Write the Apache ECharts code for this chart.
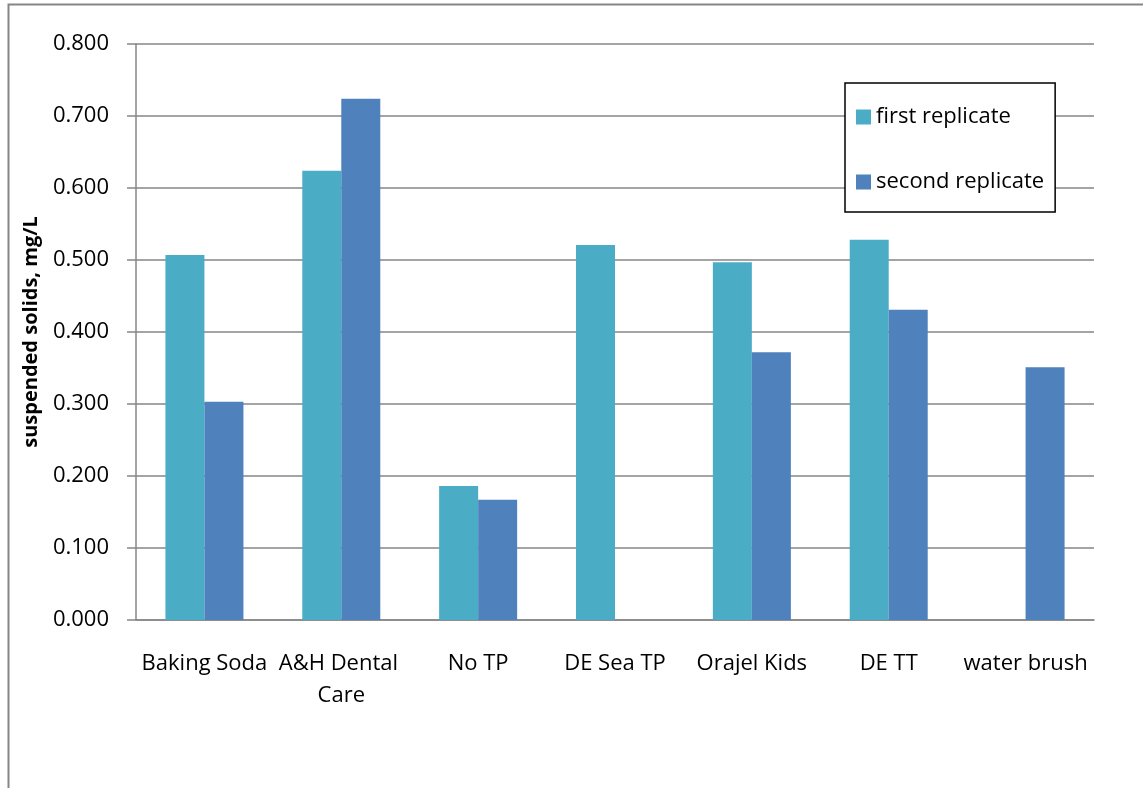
<!DOCTYPE html>
<html>
<head>
<meta charset="utf-8">
<script src="https://cdn.jsdelivr.net/npm/echarts@6/dist/echarts.min.js"></script>
<style>html,body{margin:0;padding:0;background:#fff}#c{width:1143px;height:788px}</style>
</head>
<body>
<div id="c"></div>
<script>
const categories = ["Baking Soda", "A&H Dental Care", "No TP", "DE Sea TP", "Orajel Kids", "DE TT", "water brush"];
const firstReplicate = [0.507, 0.624, 0.186, 0.521, 0.497, 0.528, null];
const secondReplicate = [0.303, 0.724, 0.167, null, 0.372, 0.431, 0.351];
const seriesNames = ["first replicate", "second replicate"];
const yTicks = { min: 0, max: 0.8, interval: 0.1 };
const yTitle = "suspended solids, mg/L";

const FONT = "Open Sans";
const chart = echarts.init(document.getElementById('c'), null, { renderer: 'canvas' });
chart.setOption({
  backgroundColor: '#fff',
  animation: false,
  graphic: [{
    type: 'rect', shape: { x: 8.5, y: 4.5, width: 1300, height: 1000 },
    style: { fill: 'none', stroke: '#868686', lineWidth: 2 }, z: -1
  }],
  grid: { left: 136, right: 49, top: 44, bottom: 168 },
  legend: {
    orient: 'vertical', left: 845, top: 83,
    padding: [23, 11, 19, 11], itemGap: 43,
    borderColor: '#000', borderWidth: 1.5, backgroundColor: '#fff',
    itemWidth: 15, itemHeight: 15, icon: 'rect',
    textStyle: { fontFamily: FONT, fontSize: 22, color: '#000' },
    data: seriesNames
  },
  xAxis: {
    type: 'category', data: categories,
    axisLine: { lineStyle: { color: '#868686', width: 1.5 } },
    axisTick: { show: false },
    axisLabel: { fontFamily: FONT, fontSize: 22, color: '#000', margin: 28, interval: 0,
      width: 134, overflow: 'break', lineHeight: 32 }
  },
  yAxis: {
    type: 'value', min: yTicks.min, max: yTicks.max, interval: yTicks.interval,
    name: yTitle, nameLocation: 'middle', nameGap: 95,
    nameTextStyle: { fontFamily: FONT, fontSize: 20, fontWeight: 'bold', color: '#000' },
    axisLine: { show: true, lineStyle: { color: '#868686', width: 1.5 } },
    axisTick: { show: true, length: 9, lineStyle: { color: '#868686', width: 1.5 } },
    splitLine: { lineStyle: { color: '#868686', width: 1.5 } },
    axisLabel: { fontFamily: FONT, fontSize: 22, color: '#000', margin: 27,
      formatter: v => v.toFixed(3) }
  },
  series: [
    { name: seriesNames[0], type: 'bar', data: firstReplicate, barGap: '0%', barCategoryGap: '43%',
      itemStyle: { color: '#4BACC6' } },
    { name: seriesNames[1], type: 'bar', data: secondReplicate, barGap: '0%', barCategoryGap: '43%',
      itemStyle: { color: '#4F81BD' } }
  ]
});
</script>
</body>
</html>
